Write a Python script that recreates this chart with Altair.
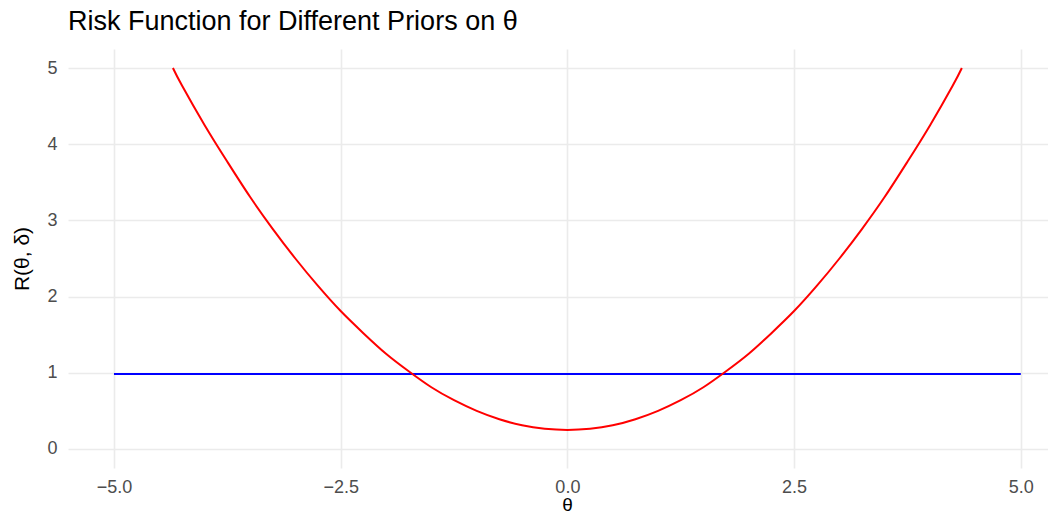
import altair as alt
import pandas as pd

# Red curve
red_theta = [-4.35, -4.25, -4.0, -3.75, -3.5, -3.25, -3.0, -2.75, -2.5, -2.25, -2.0, -1.75,
             -1.5, -1.25, -1.0, -0.75, -0.5, -0.25, 0.0, 0.25, 0.5, 0.75, 1.0, 1.25, 1.5,
             1.75, 2.0, 2.25, 2.5, 2.75, 3.0, 3.25, 3.5, 3.75, 4.0, 4.25, 4.35]
red_risk = [5.0, 4.77, 4.25, 3.77, 3.31, 2.89, 2.5, 2.14, 1.81, 1.52, 1.25, 1.02,
            0.81, 0.64, 0.5, 0.39, 0.31, 0.265, 0.25, 0.265, 0.31, 0.39, 0.5, 0.64, 0.81,
            1.02, 1.25, 1.52, 1.81, 2.14, 2.5, 2.89, 3.31, 3.77, 4.25, 4.77, 5.0]

# Blue flat line
blue_theta = [-5.0, -2.5, 0.0, 2.5, 5.0]
blue_risk = [0.985, 0.985, 0.985, 0.985, 0.985]

x_ticks = [-5.0, -2.5, 0.0, 2.5, 5.0]
y_ticks = [0, 1, 2, 3, 4, 5]

red_df = pd.DataFrame({"theta": red_theta, "risk": red_risk})
blue_df = pd.DataFrame({"theta": blue_theta, "risk": blue_risk})

x_enc = alt.X(
    "theta:Q",
    scale=alt.Scale(domain=[-5.507, 5.30], nice=False, zero=False),
    axis=alt.Axis(
        values=x_ticks, format=".1f", title="θ",
        labelExpr="replace(datum.label, '-', '\u2212')",
        labelPadding=24, labelBaseline="alphabetic",
        titleX=499, titleY=42.5, titleAlign="center", titleBaseline="alphabetic",
        titleFontSize=19,
    ),
)
y_enc = alt.Y(
    "risk:Q",
    scale=alt.Scale(domain=[-0.25, 5.25], nice=False, zero=False),
    axis=alt.Axis(
        values=y_ticks, format="d", title="R(θ, δ)",
        labelPadding=11,
        titleX=-46, titleY=209.5, titleAngle=270,
        titleAlign="center", titleBaseline="middle",
    ),
)

blue = alt.Chart(blue_df).mark_line(color="#0000FF", strokeWidth=2).encode(x=x_enc, y=y_enc)
red = alt.Chart(red_df).mark_line(color="#FF0000", strokeWidth=2, interpolate="natural").encode(x=x_enc, y=y_enc)

chart = (
    alt.layer(blue, red)
    .properties(
        width=980,
        height=419,
        title=alt.TitleParams(
            "Risk Function for Different Priors on θ",
            anchor="start", frame="group", fontSize=27, font="Liberation Sans",
            fontWeight="normal", color="black", offset=13,
        ),
        autosize=alt.AutoSizeParams(type="none"),
        padding={"left": 60, "top": 41, "right": 0, "bottom": 44},
    )
    .configure_view(stroke=None)
    .configure_axis(
        grid=True, gridColor="#EBEBEB", gridWidth=1.6,
        domain=False, ticks=False,
        labelFont="Liberation Sans", labelFontSize=18, labelColor="#4D4D4D",
        titleFont="Liberation Sans", titleFontSize=21, titleColor="black",
        titleFontWeight="normal",
    )
)

chart.save("out.html", embed_options={"renderer": "svg", "actions": False})
